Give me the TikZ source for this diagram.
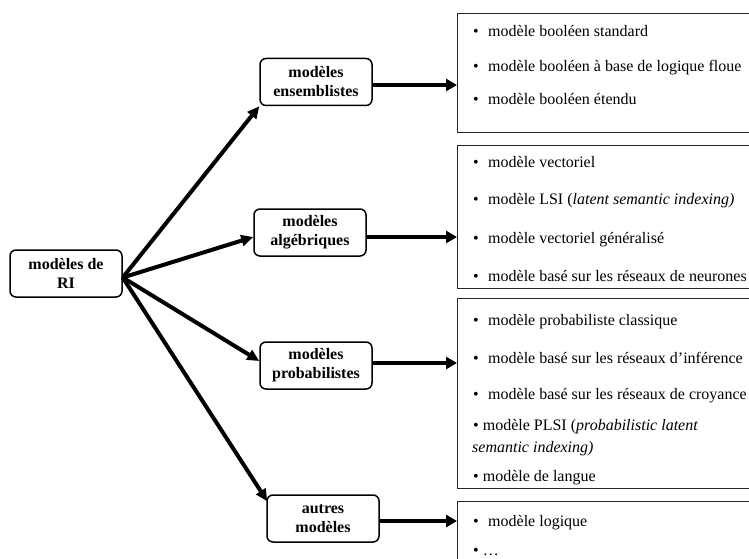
\documentclass[tikz,border=0pt]{standalone}
\usepackage{fontspec}
\setmainfont{Liberation Serif}
\usetikzlibrary{arrows.meta,calc}
\begin{document}
\begin{tikzpicture}[x=1pt,y=-1pt,
  cat/.style={draw,rounded corners=6pt,line width=1.5pt,minimum width=112pt,minimum height=47pt,inner sep=0pt,align=center,font=\fontsize{16}{19}\selectfont\bfseries},
  listbox/.style={draw=black!85,line width=1pt,anchor=north west,inner sep=0pt,minimum width=320pt},
  item/.style={anchor=base west,inner sep=0pt,font=\fontsize{16}{19}\selectfont},
  fan/.style={line width=4pt,-{Triangle[length=12pt,width=11pt]}},
  feed/.style={line width=3.5pt,-{Triangle[length=11pt,width=12pt]}}]
\useasboundingbox (0,0) rectangle (749,559);
\clip (0,0) rectangle (749,559);
\newcommand{\bul}{\makebox[15pt][l]{•}}
% category nodes
\node[cat] (ri) at (66,273.5) {modèles de\\RI};
\node[cat] (ens) at (316,82) {modèles\\ensemblistes};
\node[cat] (alg) at (310,232.5) {modèles\\algébriques};
\node[cat] (prob) at (316,365.5) {modèles\\probabilistes};
\node[cat] (aut) at (323,518.5) {autres\\modèles};
\coordinate (hub) at ([yshift=-4pt]ri.east);
% list boxes
\node[listbox,minimum height=119pt] (b1) at (457,13) {};
\node[listbox,minimum height=143pt] (b2) at (457,145) {};
\node[listbox,minimum height=190pt] (b3) at (457,298) {};
\node[listbox,minimum height=90pt] (b4) at (457,501) {};
% items
\node[item] (i11) at (473,37) {\bul modèle booléen standard};
\node[item] (i12) at (473,72) {\bul modèle booléen à base de logique floue};
\node[item] (i13) at (473,105) {\bul modèle booléen étendu};
\node[item] (i21) at (473,167) {\bul modèle vectoriel};
\node[item] (i22) at (473,204) {\bul modèle LSI (\textit{latent semantic indexing)}};
\node[item] (i23) at (473,243) {\bul modèle vectoriel généralisé};
\node[item] (i24) at (473,281) {\bul modèle basé sur les réseaux de neurones};
\node[item] (i31) at (473,325) {\bul modèle probabiliste classique};
\node[item] (i32) at (473,363) {\bul modèle basé sur les réseaux d’inférence};
\node[item] (i33) at (473,399) {\bul modèle basé sur les réseaux de croyance};
\node[item] (i34) at (473,430) {• modèle PLSI (\textit{probabilistic latent}};
\node[item] (i35) at (472,452) {\textit{semantic indexing)}};
\node[item] (i36) at (473,481) {• modèle de langue};
\node[item] (i41) at (473,526) {\bul modèle logique};
\node[item] (i42) at (473,555) {• …};
% fan arrows
\draw[fan] (hub) -- (ens.south west);
\draw[fan] (hub) -- ([yshift=-4.5pt]alg.west);
\draw[fan] (hub) -- ([yshift=4.5pt]prob.west);
\draw[fan] (hub) -- ([xshift=1pt,yshift=-7pt]aut.north west);
% feed arrows
\draw[feed] ([yshift=-3pt]ens.east) -- ([yshift=-3pt]ens.east -| b1.west);
\draw[feed] ([yshift=-4.5pt]alg.east) -- ([yshift=-4.5pt]alg.east -| b2.west);
\draw[feed] ([yshift=2.5pt]prob.east) -- ([yshift=2.5pt]prob.east -| b3.west);
\draw[feed] ([yshift=-2.5pt]aut.east) -- ([yshift=-2.5pt]aut.east -| b4.west);
\end{tikzpicture}
\end{document}
